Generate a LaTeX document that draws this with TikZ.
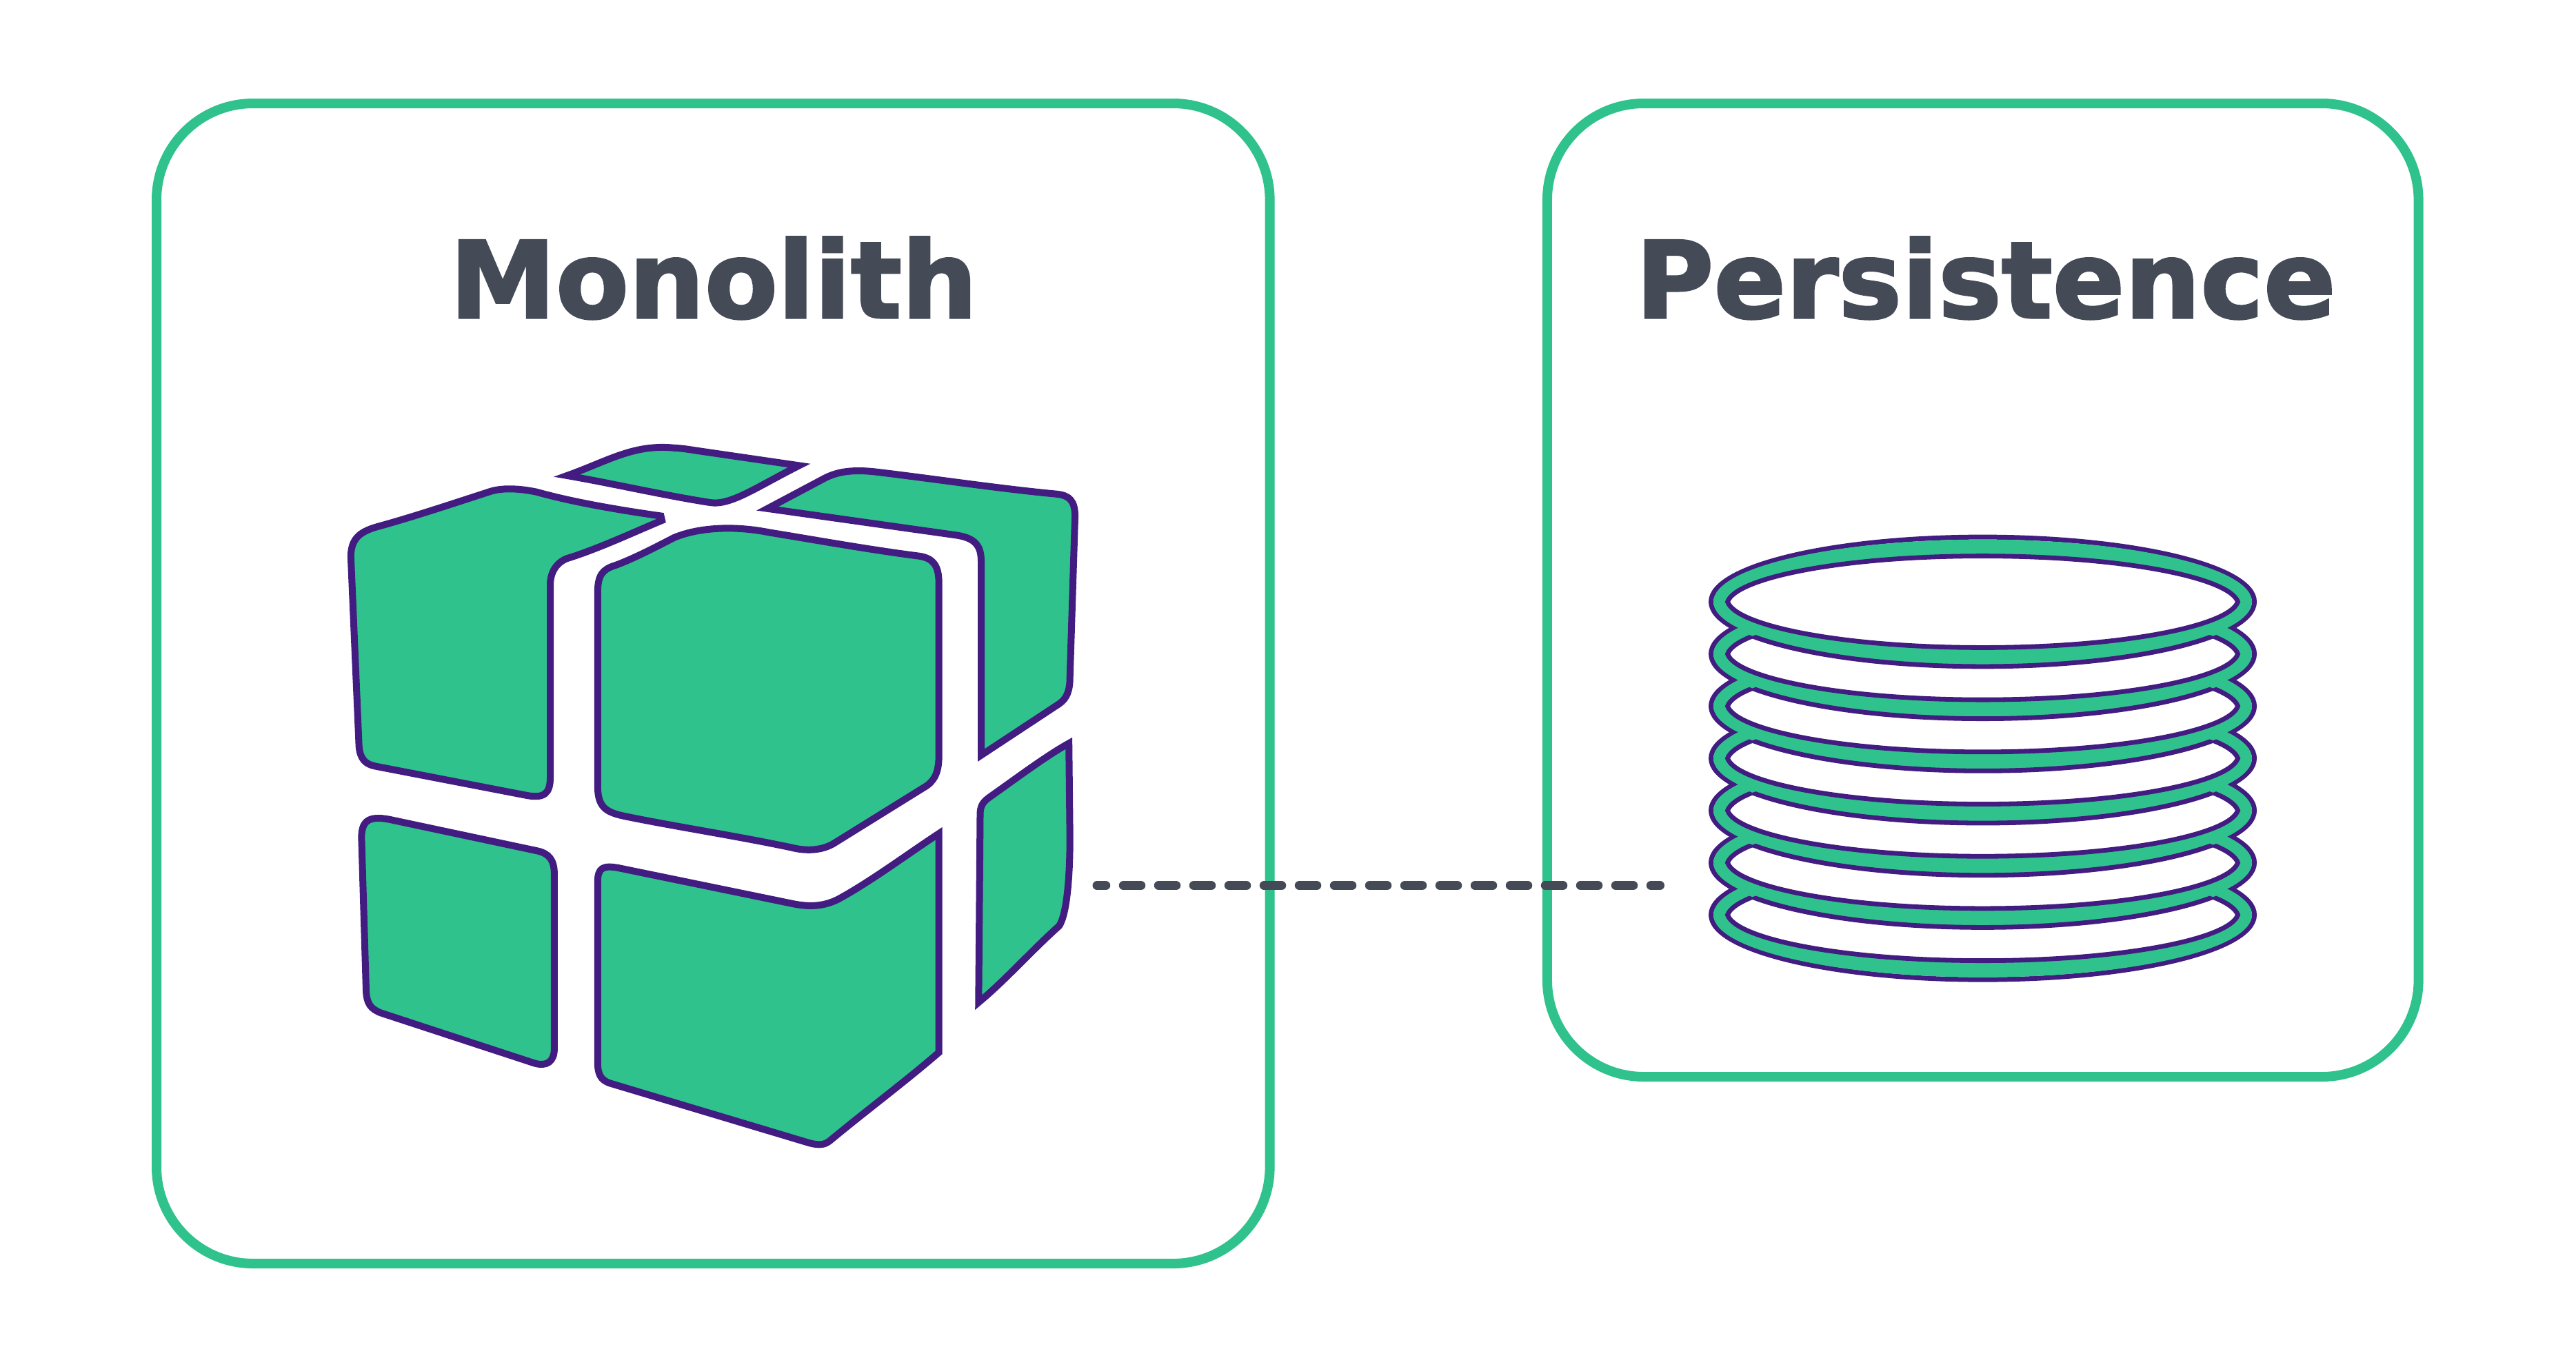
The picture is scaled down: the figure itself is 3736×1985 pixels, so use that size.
\documentclass[tikz,border=0pt]{standalone}
\usepackage{fontspec}
\setmainfont{DejaVu Sans}
\newfontfamily\headfont{DejaVu Sans}[BoldFeatures={FakeBold=2}]
\definecolor{mint}{HTML}{30C28D}
\definecolor{violetline}{HTML}{421C80}
\definecolor{slatetext}{HTML}{454A57}
\tikzset{
  panel/.style={draw=mint,line width=3.5pt,rounded corners=35pt,inner sep=0pt,fill=none},
  heading/.style={font=\headfont\bfseries\fontsize{38.6pt}{46pt}\selectfont,text=slatetext,anchor=base,inner sep=0pt},
  cubeface/.style={fill=mint,draw=violetline,line width=2.5pt,line join=miter},
  holeline/.style={draw=violetline,line width=1.7pt},
  link/.style={draw=slatetext,line width=3.25pt,line cap=round,dash pattern=on 6.375pt off 6.375pt,dash phase=3.19pt}
}
\def\orx{98.5pt}\def\ory{23.475pt}
\def\frx{97.625pt}\def\fry{22.6pt}
\def\cylx{2875.5}\def\cyly{873}\def\cyld{75.7}
\def\lens{(-370,0) .. controls (-358,-35) and (-203.5,-66.4) .. (0,-66.4) .. controls (203.5,-66.4) and (358,-35) .. (370,0) .. controls (358,35) and (203.5,66.4) .. (0,66.4) .. controls (-203.5,66.4) and (-358,35) .. (-370,0) -- cycle}
\begin{document}
\begin{tikzpicture}[x=0.25pt,y=-0.25pt]
\useasboundingbox (0,0) rectangle (3736,1985);
\fill[white] (0,0) rectangle (3736,1985);
% panels
\node[panel,minimum width=403.65pt,minimum height=420.75pt] (mono) at (1034.3,991.5) {};
\node[panel,minimum width=315.9pt,minimum height=353pt] (pers) at (2875.75,856) {};
\node[heading] (monotitle) at (1035,461) {Monolith};
\node[heading] (perstitle) at (2880,461) {Persistence};
% cube
\begin{scope}[shift={(460,600)},x=0.18491pt,y=-0.09567pt]
\path[cubeface] (674,388) .. controls (590,365) and (500,335) .. (430,297) .. controls (395,283) and (360,280) .. (335,298) .. controls (260,345) and (190,390) .. (125,425) .. controls (85,445) and (67,470) .. (66,540) -- (82,1260) .. controls (84,1310) and (95,1330) .. (115,1337) -- (410,1447) .. controls (445,1460) and (457,1440) .. (457,1380) -- (457,650) .. controls (457,590) and (475,555) .. (497,545) .. controls (560,505) and (620,450) .. (676,405) -- cycle;
\path[cubeface] (490,235) .. controls (570,180) and (620,115) .. (700,130) .. controls (720,132) and (735,138) .. (750,142) -- (945,197) .. controls (860,280) and (810,350) .. (770,337) .. controls (680,310) and (580,265) .. (490,235) -- cycle;
\path[cubeface] (883,360) -- (1250,460) .. controls (1290,470) and (1302,500) .. (1302,560) -- (1302,1295) -- (1455,1100) .. controls (1470,1080) and (1476,1050) .. (1476,1000) -- (1486,390) .. controls (1486,330) and (1475,310) .. (1450,305) .. controls (1340,285) and (1220,250) .. (1100,222) .. controls (1050,210) and (1020,220) .. (995,245) -- cycle;
\path[cubeface] (550,680) .. controls (550,610) and (560,590) .. (585,575) .. controls (620,550) and (660,510) .. (700,470) .. controls (750,430) and (820,425) .. (885,450) .. controls (980,480) and (1080,515) .. (1180,540) .. controls (1205,547) and (1219,570) .. (1219,640) -- (1219,1300) .. controls (1219,1360) and (1210,1395) .. (1190,1417) -- (1015,1627) .. controls (995,1652) and (965,1662) .. (930,1645) .. controls (820,1600) and (700,1565) .. (600,1525) .. controls (565,1510) and (550,1490) .. (550,1410) -- cycle;
\begin{scope}[yshift=-125.03pt]
\path[cubeface] (87,300) .. controls (87,230) and (105,215) .. (150,235) -- (430,350) .. controls (455,360) and (465,385) .. (465,440) -- (465,1100) .. controls (465,1150) and (450,1170) .. (425,1155) -- (125,965) .. controls (105,950) and (97,930) .. (96,880) -- cycle;
\path[cubeface] (550,470) .. controls (550,415) and (560,405) .. (590,415) -- (935,552) .. controls (970,565) and (1000,560) .. (1030,525) .. controls (1090,460) and (1160,360) .. (1219,285) -- (1219,1115) .. controls (1150,1230) and (1080,1330) .. (1005,1450) .. controls (995,1465) and (985,1468) .. (965,1458) -- (575,1232) .. controls (555,1220) and (550,1195) .. (550,1150) -- cycle;
\path[cubeface] (1300,215) .. controls (1300,180) and (1305,165) .. (1320,145) .. controls (1375,70) and (1430,-10) .. (1474,-57) -- (1476,300) .. controls (1476,450) and (1470,590) .. (1455,635) .. controls (1400,730) and (1350,840) .. (1297,925) -- cycle;
\end{scope}
\end{scope}
% cylinder: one outline, then the holes
\foreach \i in {0,...,6}
  \draw[violetline,line width=1.75pt] (\cylx,{\cyly+\i*\cyld}) ellipse [x radius=\orx,y radius=\ory];
\foreach \i in {0,...,6}
  \fill[mint] (\cylx,{\cyly+\i*\cyld}) ellipse [x radius=\frx,y radius=\fry];
\draw[holeline,fill=white,shift={(\cylx,\cyly)}] \lens;
\foreach \i in {1,...,6}{
  \pgfmathsetmacro{\cyc}{\cyly+\i*\cyld}
  \pgfmathsetmacro{\cyp}{\cyly+(\i-1)*\cyld}
  \begin{scope}[even odd rule]
    \clip (0,0) rectangle (3736,1985) (\cylx,\cyp) ellipse [x radius=\orx,y radius=\ory];
    \draw[holeline,fill=white,shift={(\cylx,\cyc)}] \lens;
  \end{scope}
  \begin{scope}[shift={(\cylx,\cyc)}]
    \clip \lens;
    \draw[holeline] (0,-\cyld) ellipse [x radius=\orx,y radius=\ory];
  \end{scope}
}
% connector
\coordinate (linkstart) at (1591,1284.5);
\coordinate (linkend) at (2407.5,1284.5);
\draw[link] (linkstart) -- (linkend);
\end{tikzpicture}
\end{document}
